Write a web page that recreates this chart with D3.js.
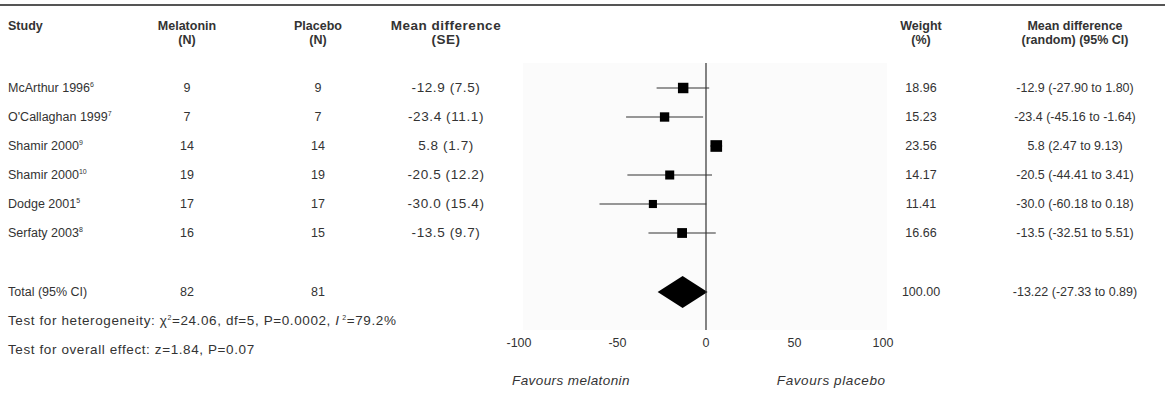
<!doctype html>
<html lang="en">
<head>
  <meta charset="utf-8">
  <style>
    body { margin: 0; background: #fff; }
    svg text { font-family: "Liberation Sans", Arial, sans-serif; fill: #333; }
  </style>
</head>
<body>
  <script src="https://d3js.org/d3.v7.min.js"></script>
  <div id="chart"></div>
  <script>
    // study data
    var studies = ["McArthur 1996", "O'Callaghan 1999", "Shamir 2000", "Shamir 2000", "Dodge 2001", "Serfaty 2003"];
    var refs = ["6", "7", "9", "10", "5", "8"];
    var nMelatonin = [9, 7, 14, 19, 17, 16];
    var nPlacebo = [9, 7, 14, 19, 17, 15];
    var meanDiff = [-12.9, -23.4, 5.8, -20.5, -30.0, -13.5];
    var se = [7.5, 11.1, 1.7, 12.2, 15.4, 9.7];
    var weights = [18.96, 15.23, 23.56, 14.17, 11.41, 16.66];
    var ciLow = [-27.90, -45.16, 2.47, -44.41, -60.18, -32.51];
    var ciHigh = [1.80, -1.64, 9.13, 3.41, 0.18, 5.51];
    var total = { nMel: 82, nPla: 81, weight: "100.00", md: -13.22, lo: -27.33, hi: 0.89 };
    var ticks = [-100, -50, 0, 50, 100];

    var width = 1165, height = 393;
    var svg = d3.select("#chart").append("svg")
      .attr("width", width)
      .attr("height", height);

    var x = d3.scaleLinear().domain([-100, 100]).range([529, 883]);
    var rowY = d3.scaleLinear().domain([0, 5]).range([88, 233]);
    var totalY = 292;
    var size = d3.scaleSqrt().domain([0, 25]).range([0, 12]);

    var col = { study: 8, mel: 187, pla: 318, md: 446, w: 921, ci: 1075 };
    var fs = 12.5, fsBig = 13.5;

    // top rule
    svg.append("line")
      .attr("x1", 0).attr("x2", width)
      .attr("y1", 5).attr("y2", 5)
      .attr("stroke", "#555").attr("stroke-width", 2);

    // faint plot panel
    svg.append("rect")
      .attr("x", 523).attr("y", 63)
      .attr("width", 364).attr("height", 267)
      .attr("fill", "#fbfbfb");

    // headers
    function header(xp, lines, anchor, big) {
      var t = svg.append("text")
        .attr("x", xp).attr("y", 30)
        .attr("text-anchor", anchor)
        .style("font-size", (big ? fsBig : fs) + "px")
        .style("font-weight", "bold")
        .style("letter-spacing", big ? "0.5px" : "0px");
      lines.forEach(function (l, i) {
        t.append("tspan").attr("x", xp).attr("dy", i ? 14 : 0).text(l);
      });
    }
    header(col.study, ["Study"], "start");
    header(col.mel, ["Melatonin", "(N)"], "middle");
    header(col.pla, ["Placebo", "(N)"], "middle");
    header(col.md, ["Mean difference", "(SE)"], "middle", true);
    header(col.w, ["Weight", "(%)"], "middle");
    header(col.ci, ["Mean difference", "(random) (95% CI)"], "middle");

    function cell(xp, yp, txt, anchor, big) {
      return svg.append("text")
        .attr("x", xp).attr("y", yp + 4)
        .attr("text-anchor", anchor || "middle")
        .style("font-size", (big ? fsBig : fs) + "px")
        .style("letter-spacing", big ? "0.6px" : "0px")
        .text(txt);
    }

    // study rows
    studies.forEach(function (s, i) {
      var y = rowY(i);
      var t = cell(col.study, y, s, "start");
      t.append("tspan").attr("dy", -5).style("font-size", "7px").text(refs[i]);
      cell(col.mel, y, nMelatonin[i]);
      cell(col.pla, y, nPlacebo[i]);
      cell(col.md, y, meanDiff[i].toFixed(1) + " (" + se[i].toFixed(1) + ")", "middle", true);
      cell(col.w, y, weights[i].toFixed(2));
      cell(col.ci, y, meanDiff[i].toFixed(1) + " (" + ciLow[i].toFixed(2) + " to " + ciHigh[i].toFixed(2) + ")");
    });

    // total row
    cell(col.study, totalY, "Total (95% CI)", "start");
    cell(col.mel, totalY, total.nMel);
    cell(col.pla, totalY, total.nPla);
    cell(col.w, totalY, total.weight);
    cell(col.ci, totalY, total.md.toFixed(2) + " (" + total.lo.toFixed(2) + " to " + total.hi.toFixed(2) + ")");

    var het = cell(col.study, 321, "Test for heterogeneity: ", "start", true);
    het.append("tspan").text("χ");
    het.append("tspan").attr("dy", -5).style("font-size", "7px").text("2");
    het.append("tspan").attr("dy", 5).text("=24.06, df=5, P=0.0002, ");
    het.append("tspan").style("font-style", "italic").text("I");
    het.append("tspan").attr("dy", -5).style("font-size", "7px").text(" 2");
    het.append("tspan").attr("dy", 5).text("=79.2%");
    cell(col.study, 350, "Test for overall effect: z=1.84, P=0.07", "start", true);

    // confidence interval lines
    svg.selectAll(".ci").data(studies).enter().append("line")
      .attr("x1", function (d, i) { return x(ciLow[i]); })
      .attr("x2", function (d, i) { return x(ciHigh[i]); })
      .attr("y1", function (d, i) { return rowY(i); })
      .attr("y2", function (d, i) { return rowY(i); })
      .attr("stroke", "#333").attr("stroke-width", 1.2);

    // weight squares
    svg.selectAll(".sq").data(studies).enter().append("rect")
      .attr("x", function (d, i) { return x(meanDiff[i]) - size(weights[i]) / 2; })
      .attr("y", function (d, i) { return rowY(i) - size(weights[i]) / 2; })
      .attr("width", function (d, i) { return size(weights[i]); })
      .attr("height", function (d, i) { return size(weights[i]); })
      .attr("fill", "#000");

    // pooled diamond
    svg.append("polygon")
      .attr("points", [
        [x(total.lo), totalY], [x(total.md), totalY - 16],
        [x(total.hi), totalY], [x(total.md), totalY + 16]
      ].map(function (p) { return p.join(","); }).join(" "))
      .attr("fill", "#000");

    // line of no effect
    svg.append("line")
      .attr("x1", x(0)).attr("x2", x(0))
      .attr("y1", 63).attr("y2", 330)
      .attr("stroke", "#333").attr("stroke-width", 1.2);

    // tick labels
    svg.selectAll(".tick").data(ticks).enter().append("text")
      .attr("x", function (d) { return x(d) - (d === -100 ? 10 : 0); })
      .attr("y", 347)
      .attr("text-anchor", "middle")
      .style("font-size", fs + "px")
      .text(function (d) { return d; });

    svg.append("text")
      .attr("x", x(-43)).attr("y", 385)
      .attr("text-anchor", "end")
      .style("font-size", fsBig + "px").style("font-style", "italic")
      .style("letter-spacing", "0.4px")
      .text("Favours melatonin");
    svg.append("text")
      .attr("x", x(40)).attr("y", 385)
      .attr("text-anchor", "start")
      .style("font-size", fsBig + "px").style("font-style", "italic")
      .style("letter-spacing", "0.6px")
      .text("Favours placebo");
  </script>
</body>
</html>
